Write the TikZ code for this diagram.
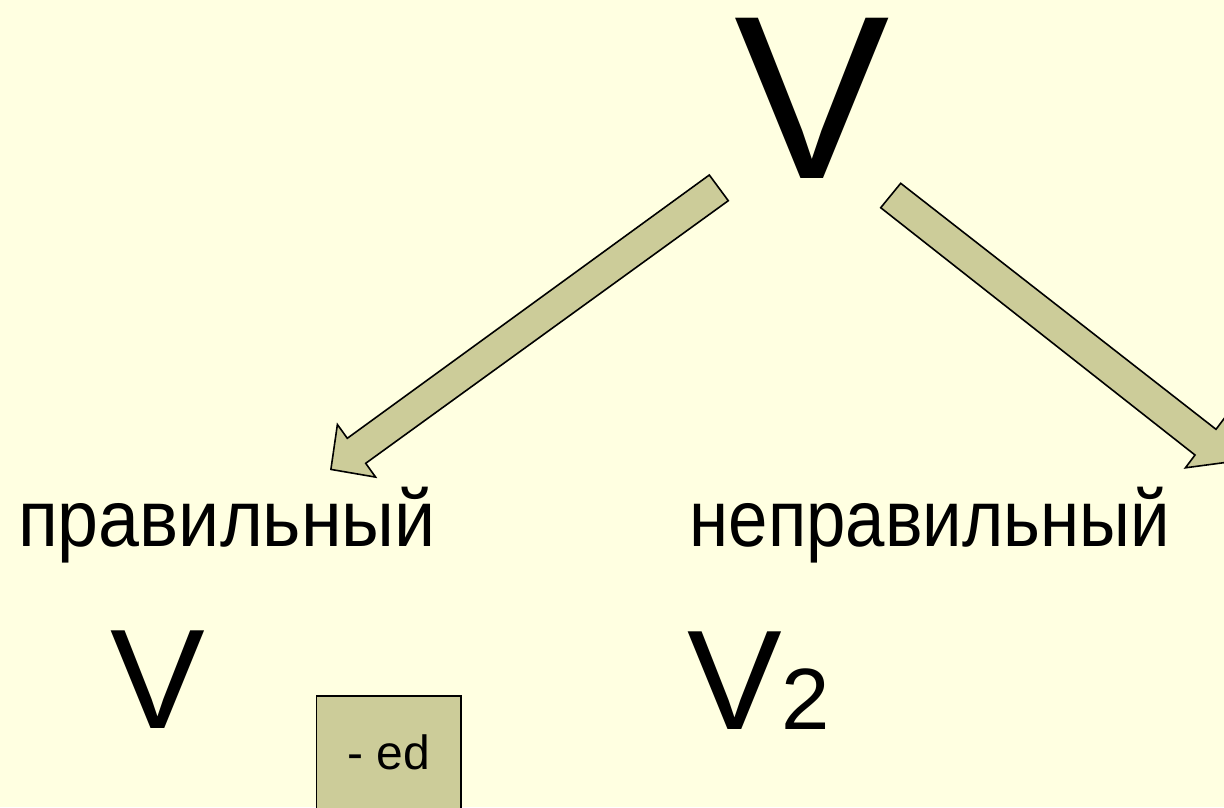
\documentclass[tikz,border=0pt]{standalone}
\usepackage{fontspec}
\setmainfont{Liberation Sans}
\definecolor{bgyellow}{RGB}{255,255,225}
\definecolor{khaki}{RGB}{204,204,153}
\tikzset{
  blockarrow/.style={draw=black, fill=khaki, line width=1.6pt, line join=miter},
  label/.style={inner sep=0pt, anchor=base, text=black},
  suffixbox/.style={draw=black, fill=khaki, line width=1.6pt, inner sep=0pt,
    minimum width=144.3pt, minimum height=113pt, font=\fontsize{48}{48}\selectfont}
}
\begin{document}
\begin{tikzpicture}[x=1pt,y=-1pt]
\useasboundingbox (0,0) rectangle (1224,807);
\clip (0,0) rectangle (1224,807);
\fill[bgyellow] (0,0) rectangle (1224,807);

% top verb
\node[label, font=\fontsize{233}{233}\selectfont] (topV) at (812.5,178.3) {V};

% block arrows
\draw[blockarrow] (709.3,175) -- (347.3,438.3) -- (337.4,424.5) -- (330.9,469.4)
  -- (375.6,477.1) -- (365.7,463.3) -- (728.3,200.7) -- cycle;
\draw[blockarrow] (900.7,183.3) -- (1216,429.3) -- (1225.6,416.6) -- (1230.4,461.8)
  -- (1185.4,467.8) -- (1195,455) -- (880.7,207.7) -- cycle;

% categories
\node[label, font=\fontsize{80}{80}\selectfont] (reg) at (227,546.7) {\scalebox{0.92}[1]{правильный}};
\node[label, font=\fontsize{80}{80}\selectfont] (irr) at (930,546.2) {\scalebox{0.885}[1]{неправильный}};

% forms
\node[label, font=\fontsize{142}{142}\selectfont] (regV) at (158.3,728.3) {V};
\node[label, anchor=base west, font=\fontsize{142}{142}\selectfont] (irrV) at (687,729.5) {V{\fontsize{87}{87}\selectfont 2}};

\node[suffixbox] (ed) at (388.8,752.5) {- ed};
\end{tikzpicture}
\end{document}
